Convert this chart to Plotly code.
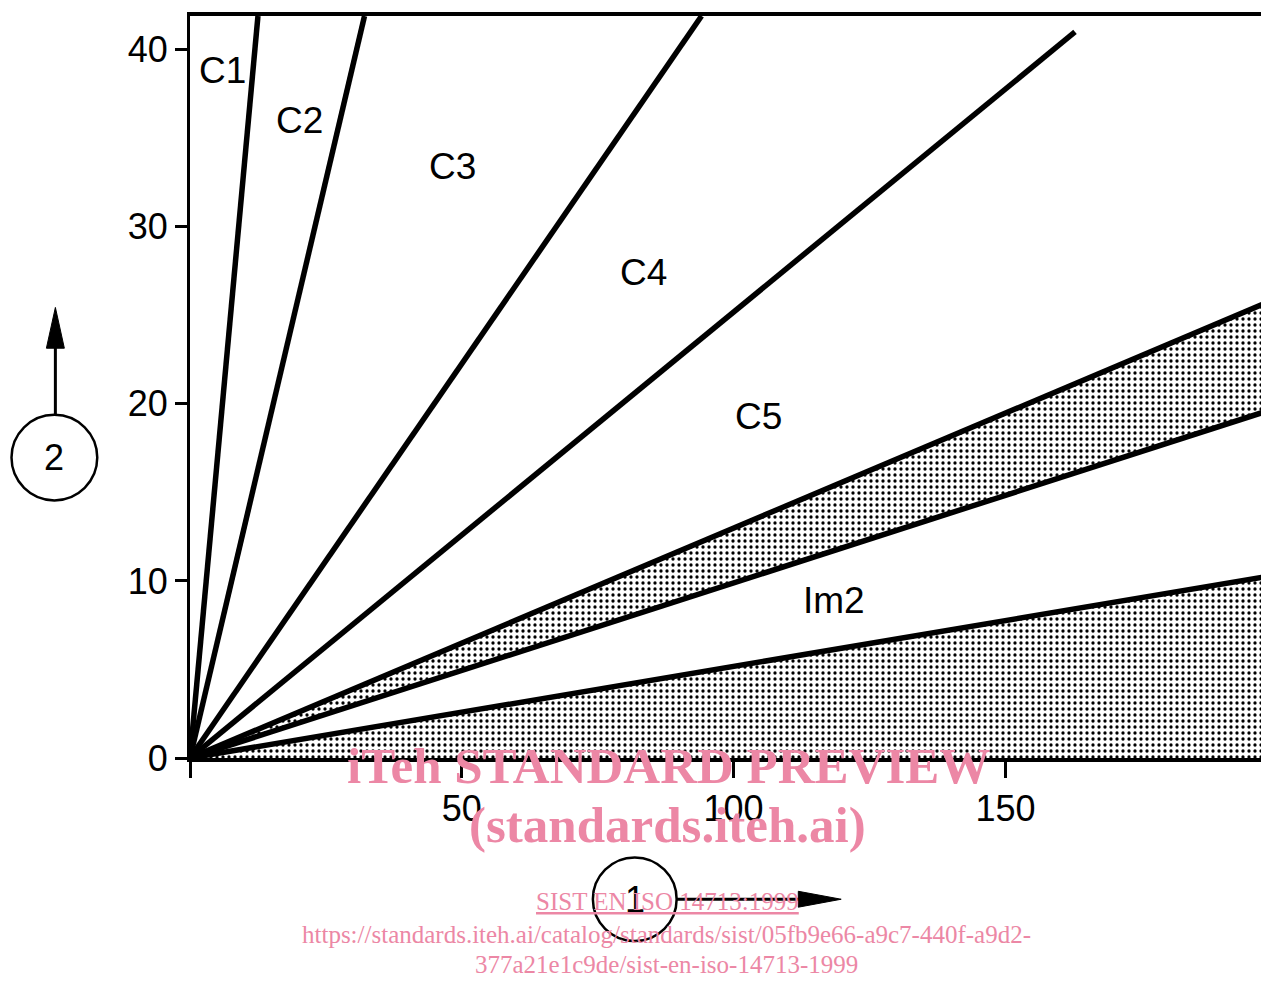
import plotly.graph_objects as go

# ---- data ----
# boundary lines through the origin: end points (x, y)
line_names = ["C1/C2", "C2/C3", "C3/C4", "C4/C5", "band top", "band bottom", "Im2 limit"]
line_x_end = [12.5, 32.1, 94.1, 162.8, 197.2, 197.2, 197.2]
line_y_end = [41.9, 41.9, 41.9, 41.0, 25.6, 19.5, 10.2]

region_labels = ["C1", "C2", "C3", "C4", "C5", "Im2"]
label_x = [5.9, 20.2, 48.3, 83.5, 104.6, 118.5]
label_y = [38.8, 36.0, 33.4, 27.4, 19.3, 8.9]

x_ticks = [0, 50, 100, 150]
x_tick_text = ["", "50", "100", "150"]
y_ticks = [0, 10, 20, 30, 40]
y_tick_text = ["0", "10", "20", "30", "40"]

x_range = [0, 197.2]
y_range = [0, 41.9]

FONT = "Liberation Sans, Arial, Helvetica, sans-serif"
SERIF = "Liberation Serif, Times New Roman, serif"
PINK = "#ec87a5"

pattern = dict(shape=".", size=6, solidity=0.24, fgcolor="black", bgcolor="white", fillmode="replace")

fig = go.Figure()

# shaded band between lines 5 and 6
fig.add_trace(go.Scatter(x=[0, line_x_end[5]], y=[0, line_y_end[5]], mode="lines",
                         line=dict(width=0, color="black"), showlegend=False, hoverinfo="skip"))
fig.add_trace(go.Scatter(x=[0, line_x_end[4]], y=[0, line_y_end[4]], mode="lines",
                         line=dict(width=0, color="black"), fill="tonexty",
                         fillcolor="white", fillpattern=pattern, showlegend=False, hoverinfo="skip"))
# shaded area under line 7
fig.add_trace(go.Scatter(x=[0, line_x_end[6]], y=[0, line_y_end[6]], mode="lines",
                         line=dict(width=0, color="black"), fill="tozeroy",
                         fillcolor="white", fillpattern=pattern, showlegend=False, hoverinfo="skip"))

# boundary lines
for name, xe, ye in zip(line_names, line_x_end, line_y_end):
    fig.add_trace(go.Scatter(x=[0, xe], y=[0, ye], mode="lines", name=name,
                             line=dict(color="black", width=5.5), showlegend=False, hoverinfo="skip"))

# region labels
for t, xx, yy in zip(region_labels, label_x, label_y):
    fig.add_annotation(x=xx, y=yy, text=t, showarrow=False, xanchor="center", yanchor="middle",
                       font=dict(family=FONT, size=37, color="black"))

# ---- layout geometry (page has an 8 px body margin) ----
OFF = 8
W, H = 1269 - OFF, 981 - OFF
L, R, T, B = 182, 4, 4, 223
pw, ph = W - L - R, H - T - B
# plot area on screen: left 190, top 12, right 1265, bottom 758


def px(x):
    return (x - (OFF + L)) / pw


def py(y):
    return (OFF + H - B - y) / ph


# circle "2" with arrow up
fig.add_shape(type="circle", xref="paper", yref="paper",
              x0=px(11), x1=px(97), y0=py(499), y1=py(413),
              line=dict(color="black", width=2.5))
fig.add_annotation(xref="paper", yref="paper", x=px(54), y=py(456), text="2", showarrow=False,
                   xanchor="center", yanchor="middle",
                   font=dict(family=FONT, size=36, color="black"))
fig.add_shape(type="line", xref="paper", yref="paper",
              x0=px(55), x1=px(55), y0=py(413), y1=py(345), line=dict(color="black", width=3))
fig.add_shape(type="path", xref="paper", yref="paper",
              path=f"M {px(46)},{py(346)} L {px(64)},{py(346)} L {px(55)},{py(305)} Z",
              fillcolor="black", line=dict(color="black", width=1))

# circle "1" with arrow right
fig.add_shape(type="circle", xref="paper", yref="paper",
              x0=px(594), x1=px(678), y0=py(942), y1=py(858),
              line=dict(color="black", width=2.5))
fig.add_annotation(xref="paper", yref="paper", x=px(636), y=py(900), text="1", showarrow=False,
                   xanchor="center", yanchor="middle",
                   font=dict(family=FONT, size=36, color="black"))
fig.add_shape(type="line", xref="paper", yref="paper",
              x0=px(678), x1=px(802), y0=py(900), y1=py(900), line=dict(color="black", width=3))
fig.add_shape(type="path", xref="paper", yref="paper",
              path=f"M {px(800)},{py(892)} L {px(800)},{py(908)} L {px(843)},{py(900)} Z",
              fillcolor="black", line=dict(color="black", width=1))

# ---- watermark texts ----
wm = [
    ("<b>iTeh STANDARD PREVIEW</b>", 670, 766, 51),
    ("<b>(standards.iteh.ai)</b>", 669, 825, 51),
    ("<u>SIST EN ISO 14713:1999</u>", 669, 902, 25),
    ("https://standards.iteh.ai/catalog/standards/sist/05fb9e66-a9c7-440f-a9d2-", 668, 935, 25),
    ("377a21e1c9de/sist-en-iso-14713-1999", 668, 966, 25),
]
for t, xx, yy, sz in wm:
    fig.add_annotation(xref="paper", yref="paper", x=px(xx), y=py(yy), text=t, showarrow=False,
                       xanchor="center", yanchor="middle",
                       font=dict(family=SERIF, size=sz, color=PINK))

fig.update_xaxes(range=x_range, tickvals=x_ticks, ticktext=x_tick_text, ticks="outside", ticklen=16,
                 tickwidth=2.5, tickcolor="black", showline=True, linecolor="black", linewidth=4,
                 mirror=True, showgrid=False, zeroline=False,
                 tickfont=dict(family=FONT, size=36, color="black"))
fig.update_yaxes(range=y_range, tickvals=y_ticks, ticktext=y_tick_text, ticks="outside", ticklen=12,
                 tickwidth=2.5, tickcolor="black", showline=True, linecolor="black", linewidth=3,
                 mirror=True, showgrid=False, zeroline=False,
                 tickfont=dict(family=FONT, size=36, color="black"))

fig.update_layout(width=W, height=H, margin=dict(l=L, r=R, t=T, b=B),
                  plot_bgcolor="white", paper_bgcolor="white", showlegend=False)

fig.write_html("out.html")
